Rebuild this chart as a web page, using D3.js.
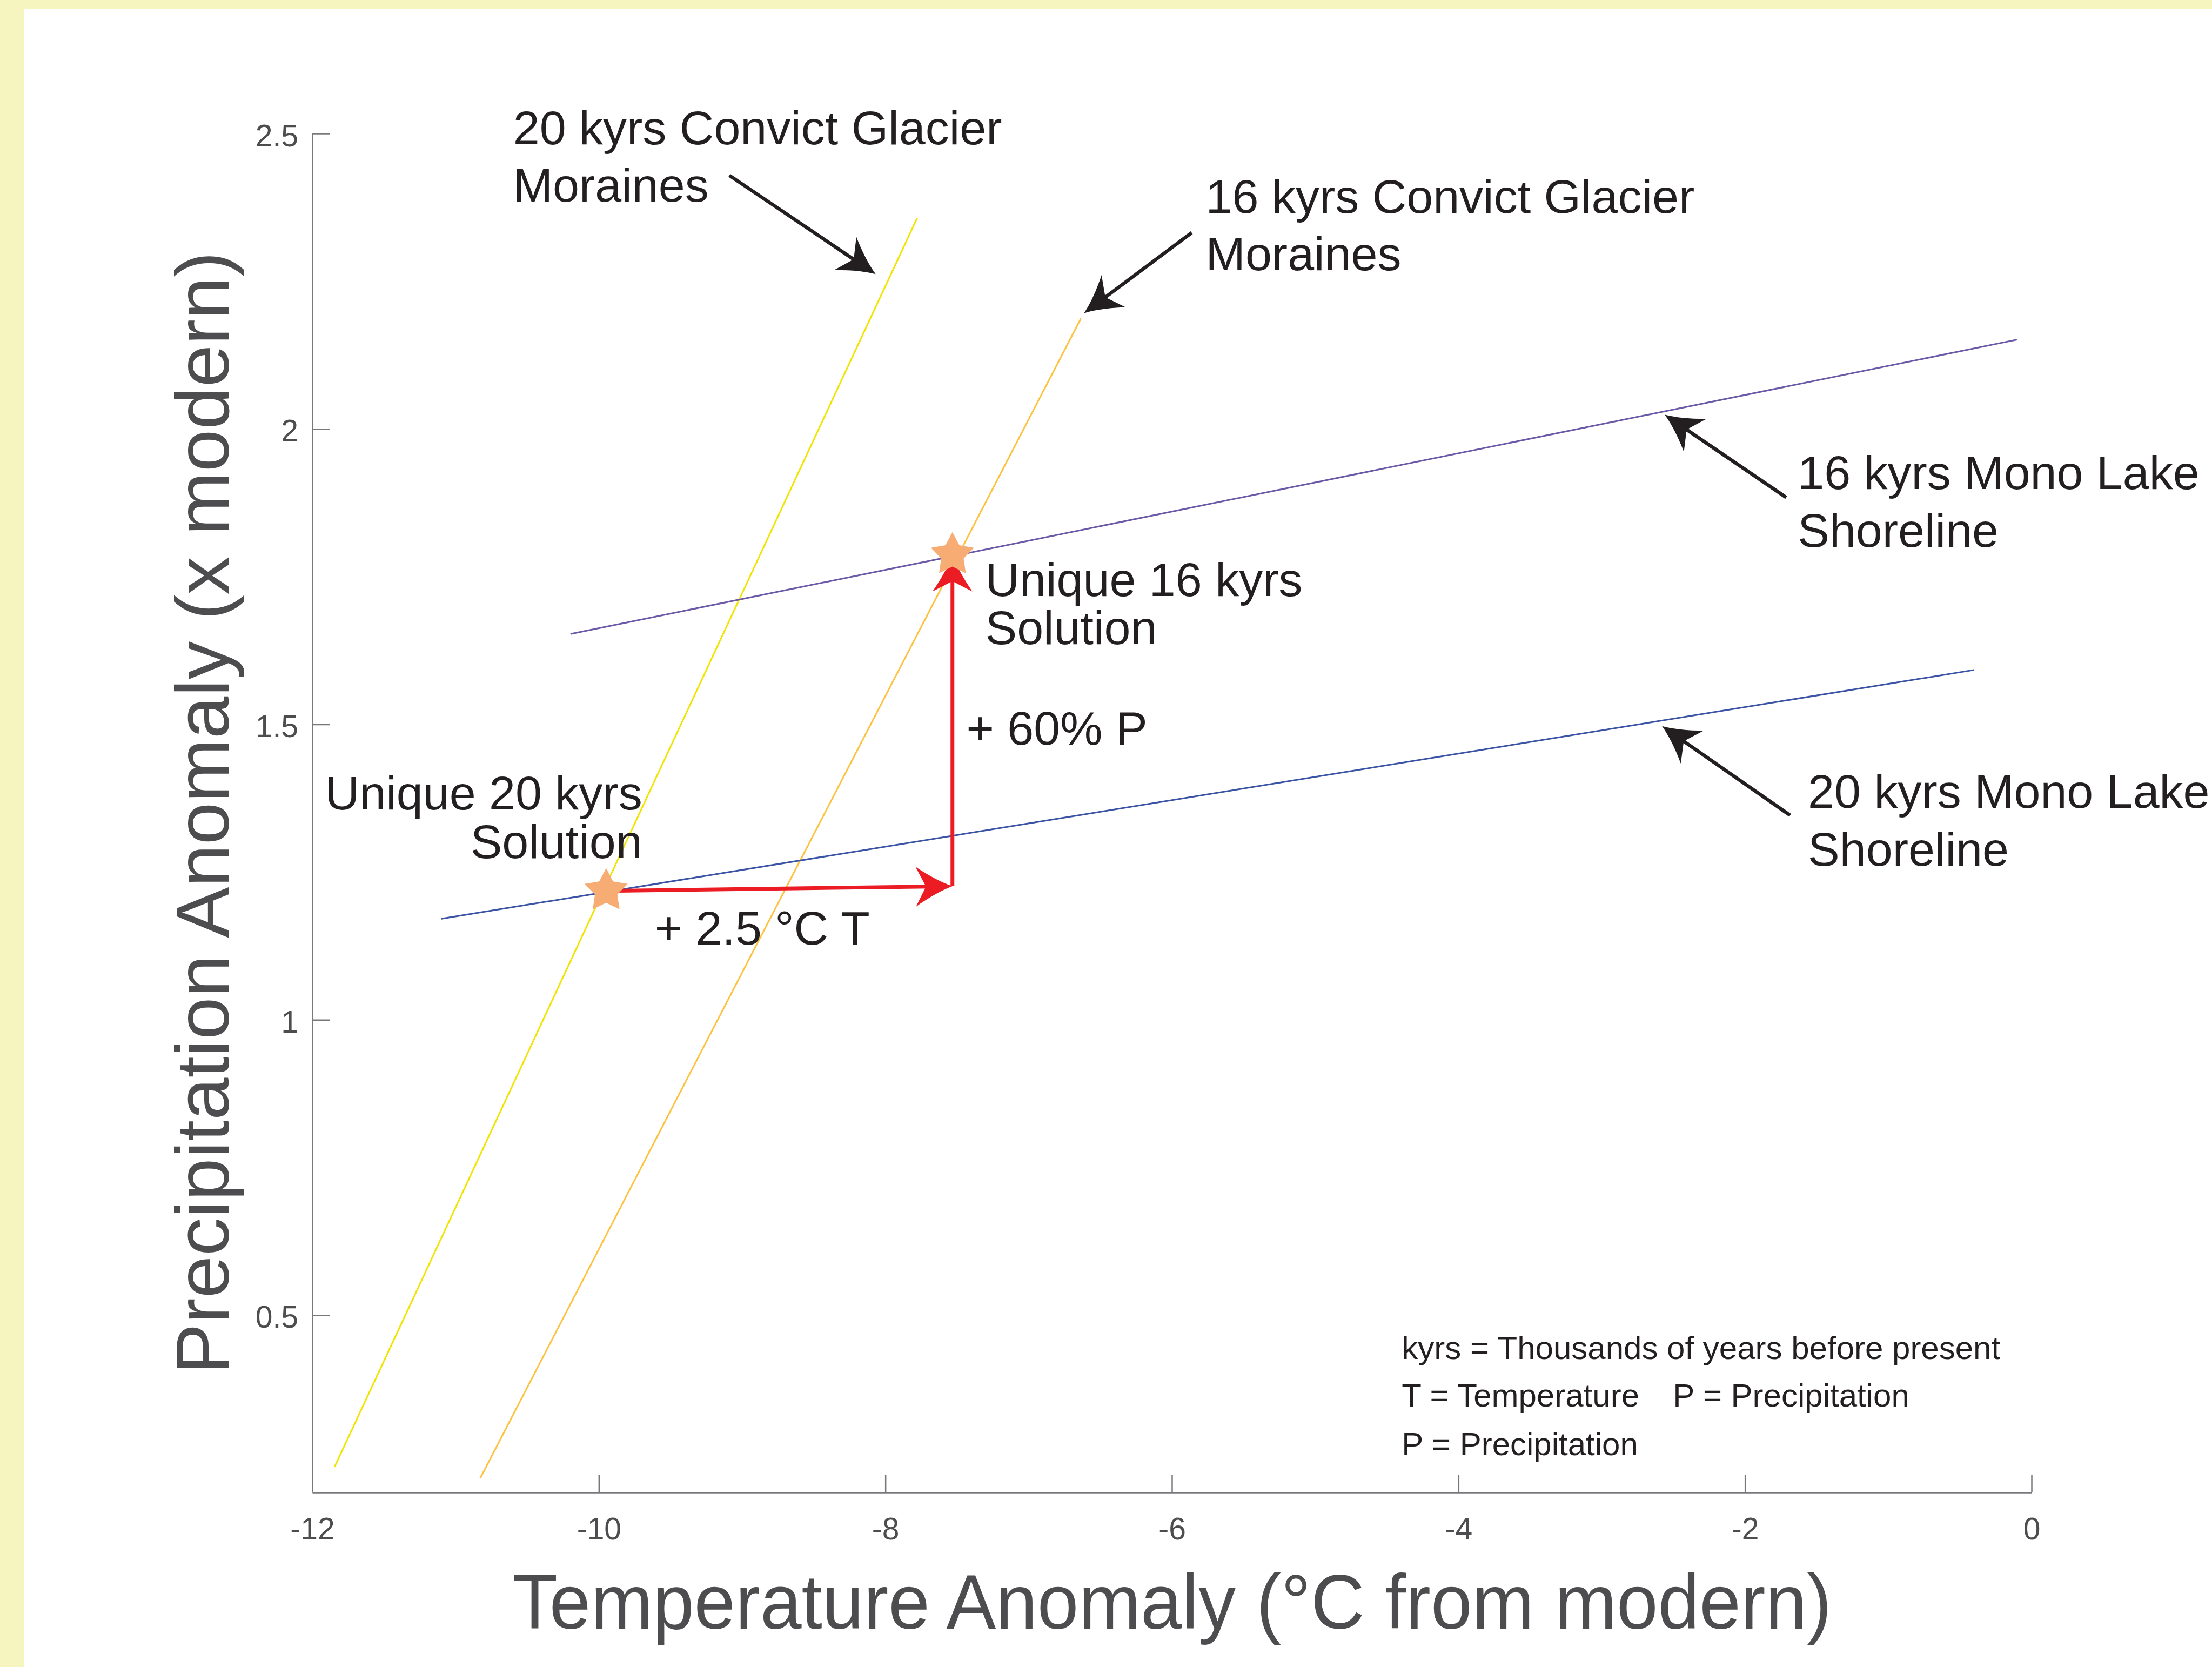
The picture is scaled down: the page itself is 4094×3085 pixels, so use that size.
<!DOCTYPE html>
<html>
<head>
<meta charset="utf-8">
<script src="https://cdn.jsdelivr.net/npm/d3@7"></script>
<style>
  html, body { margin: 0; padding: 0; background: #fff; }
  svg { display: block; }
  text { font-family: "Liberation Sans", Arial, Helvetica, sans-serif; }
</style>
</head>
<body>
<svg id="chart" width="4094" height="3085"></svg>
<script>
// ticks
var xTicks = [-12, -10, -8, -6, -4, -2, 0];
var yTicks = [0.5, 1, 1.5, 2, 2.5];

// model lines, [temperature anomaly, precipitation anomaly]
var convict20 = [[-11.845, 0.243], [-7.778, 2.357]];
var convict16 = [[-10.828, 0.224], [-6.635, 2.187]];
var mono16 = [[-10.198, 1.653], [-0.102, 2.151]];
var mono20 = [[-11.099, 1.171], [-0.403, 1.592]];

// unique solutions (stars) and the shift between them
var solutions = [[-9.949, 1.218], [-7.532, 1.787]];
var shiftCorner = [-7.532, 1.226];

// black pointer arrows, tail -> tip
var pointerFrom = [[-9.089, 2.429], [-5.862, 2.332], [-1.712, 1.884], [-1.685, 1.346]];
var pointerTo = [[-8.068, 2.262], [-6.613, 2.196], [-2.560, 2.024], [-2.579, 1.497]];

// annotation text, anchored at [T, P] (baseline)
var labels = [
  {t: "20 kyrs Convict Glacier", at: [-10.598, 2.482]},
  {t: "Moraines", at: [-10.598, 2.385]},
  {t: "16 kyrs Convict Glacier", at: [-5.764, 2.366]},
  {t: "Moraines", at: [-5.764, 2.269]},
  {t: "16 kyrs Mono Lake", at: [-1.632, 1.898]},
  {t: "Shoreline", at: [-1.632, 1.800]},
  {t: "20 kyrs Mono Lake", at: [-1.561, 1.359]},
  {t: "Shoreline", at: [-1.561, 1.261]},
  {t: "Unique 16 kyrs", at: [-7.303, 1.717]},
  {t: "Solution", at: [-7.303, 1.636]},
  {t: "+ 60% P", at: [-7.435, 1.466]},
  {t: "Unique 20 kyrs", at: [-9.697, 1.356], end: true},
  {t: "Solution", at: [-9.697, 1.274], end: true},
  {t: "+ 2.5 °C T", at: [-9.610, 1.127]}
];
var notes = [
  {t: "kyrs = Thousands of years before present", at: [-4.396, 0.426]},
  {t: "T = Temperature", at: [-4.396, 0.345]},
  {t: "P = Precipitation", at: [-2.503, 0.345]},
  {t: "P = Precipitation", at: [-4.396, 0.263]}
];

var svg = d3.select("#chart");
var ink = "#231f20";

// pale yellow frame on the top and left
svg.append("rect").attr("x", 0).attr("y", 0).attr("width", 4094).attr("height", 3085).attr("fill", "#fff");
svg.append("rect").attr("x", 0).attr("y", 0).attr("width", 4094).attr("height", 16).attr("fill", "#f6f5c0");
svg.append("rect").attr("x", 0).attr("y", 0).attr("width", 44).attr("height", 3085).attr("fill", "#f6f5c0");

var x = d3.scaleLinear().domain([-12, 0]).range([578, 3760]);
var y = d3.scaleLinear().domain([0.2, 2.5]).range([2762, 247]);

// axes
var gx = svg.append("g").attr("transform", "translate(0," + y(0.2) + ")")
  .call(d3.axisBottom(x).tickValues(xTicks).tickSizeInner(-33).tickSizeOuter(0)
    .tickFormat(function(d) { return String(d); }));
var gy = svg.append("g").attr("transform", "translate(" + x(-12) + ",0)")
  .call(d3.axisLeft(y).tickValues(yTicks).tickSizeInner(-33).tickSizeOuter(0)
    .tickFormat(function(d) { return String(d); }));

[gx, gy].forEach(function(g) {
  g.select(".domain").attr("stroke", "#77787b").attr("stroke-width", 2.5);
  g.selectAll(".tick line").attr("stroke", "#77787b").attr("stroke-width", 2.5);
  g.selectAll(".tick text").attr("fill", "#4d4d4f").attr("font-size", 57)
    .attr("font-family", "Liberation Sans, Arial, sans-serif");
});
gx.selectAll(".tick text").attr("y", 87).attr("dy", 0);
gy.selectAll(".tick text").attr("x", -26).attr("dy", 23);

// axis titles
svg.append("text")
  .attr("x", (x(-12) + x(0)) / 2).attr("y", y(0.2) + 252)
  .attr("text-anchor", "middle").attr("font-size", 142).attr("fill", "#4d4d4f")
  .attr("textLength", 2442).attr("lengthAdjust", "spacingAndGlyphs")
  .text("Temperature Anomaly (°C from modern)");
svg.append("text")
  .attr("transform", "translate(423," + (y(0.2) + y(2.5)) / 2 + ") rotate(-90)")
  .attr("text-anchor", "middle").attr("font-size", 140).attr("fill", "#4d4d4f")
  .attr("textLength", 2078).attr("lengthAdjust", "spacingAndGlyphs")
  .text("Precipitation Anomaly (x modern)");

// model lines
var line = d3.line().x(function(d) { return x(d[0]); }).y(function(d) { return y(d[1]); });
var series = [
  {pts: convict20, color: "#f1e400"},
  {pts: convict16, color: "#fcc240"},
  {pts: mono16, color: "#6b59a8"},
  {pts: mono20, color: "#3a53a4"}
];
svg.selectAll("path.model").data(series).enter().append("path")
  .attr("class", "model")
  .attr("d", function(d) { return line(d.pts); })
  .attr("fill", "none").attr("stroke", function(d) { return d.color; })
  .attr("stroke-width", 3);

// arrowhead with swept, concave sides
function head(tip, u, L, W) {
  var nx = -u[1], ny = u[0];
  function p(a, b) { return [tip[0] - a * u[0] + b * nx, tip[1] - a * u[1] + b * ny]; }
  return "M" + tip + "Q" + p(0.45 * L, 0.3 * W) + " " + p(L, W) + "L" + p(0.72 * L, 0) +
    "L" + p(L, -W) + "Q" + p(0.45 * L, -0.3 * W) + " " + tip + "Z";
}
function arrow(g, a, b, color, width, L, W) {
  var ax = x(a[0]), ay = y(a[1]), bx = x(b[0]), by = y(b[1]);
  var len = Math.hypot(bx - ax, by - ay);
  var u = [(bx - ax) / len, (by - ay) / len];
  g.append("line").attr("x1", ax).attr("y1", ay)
    .attr("x2", bx - u[0] * 0.6 * L).attr("y2", by - u[1] * 0.6 * L)
    .attr("stroke", color).attr("stroke-width", width);
  g.append("path").attr("d", head([bx, by], u, L, W)).attr("fill", color);
}

var pointers = svg.append("g");
pointerFrom.forEach(function(d, i) { arrow(pointers, d, pointerTo[i], ink, 6.5, 68, 37); });

// red shift arrows: + 2.5 °C T then + 60% P
var shift = svg.append("g");
arrow(shift, solutions[0], shiftCorner, "#ec1c24", 7, 68, 37);
arrow(shift, shiftCorner, solutions[1], "#ec1c24", 7, 68, 37);

// stars
var starType = {
  draw: function(ctx, size) {
    var R = Math.sqrt(size), r = R * 0.52;
    for (var i = 0; i < 10; i++) {
      var rad = i % 2 ? r : R, ang = -Math.PI / 2 + i * Math.PI / 5;
      var px = rad * Math.cos(ang), py = rad * Math.sin(ang);
      if (i === 0) ctx.moveTo(px, py); else ctx.lineTo(px, py);
    }
    ctx.closePath();
  }
};
svg.selectAll("path.star").data(solutions).enter().append("path")
  .attr("class", "star")
  .attr("transform", function(d) { return "translate(" + x(d[0]) + "," + y(d[1]) + ")"; })
  .attr("d", d3.symbol().type(starType).size(42 * 42))
  .attr("fill", "#f7ac73");

// annotation text
svg.selectAll("text.label").data(labels).enter().append("text")
  .attr("class", "label")
  .attr("x", function(d) { return x(d.at[0]); })
  .attr("y", function(d) { return y(d.at[1]); })
  .attr("text-anchor", function(d) { return d.end ? "end" : "start"; })
  .attr("font-size", 88).attr("fill", ink)
  .text(function(d) { return d.t; });

svg.selectAll("text.note").data(notes).enter().append("text")
  .attr("class", "note")
  .attr("x", function(d) { return x(d.at[0]); })
  .attr("y", function(d) { return y(d.at[1]); })
  .attr("font-size", 60).attr("fill", ink)
  .text(function(d) { return d.t; });
</script>
</body>
</html>
